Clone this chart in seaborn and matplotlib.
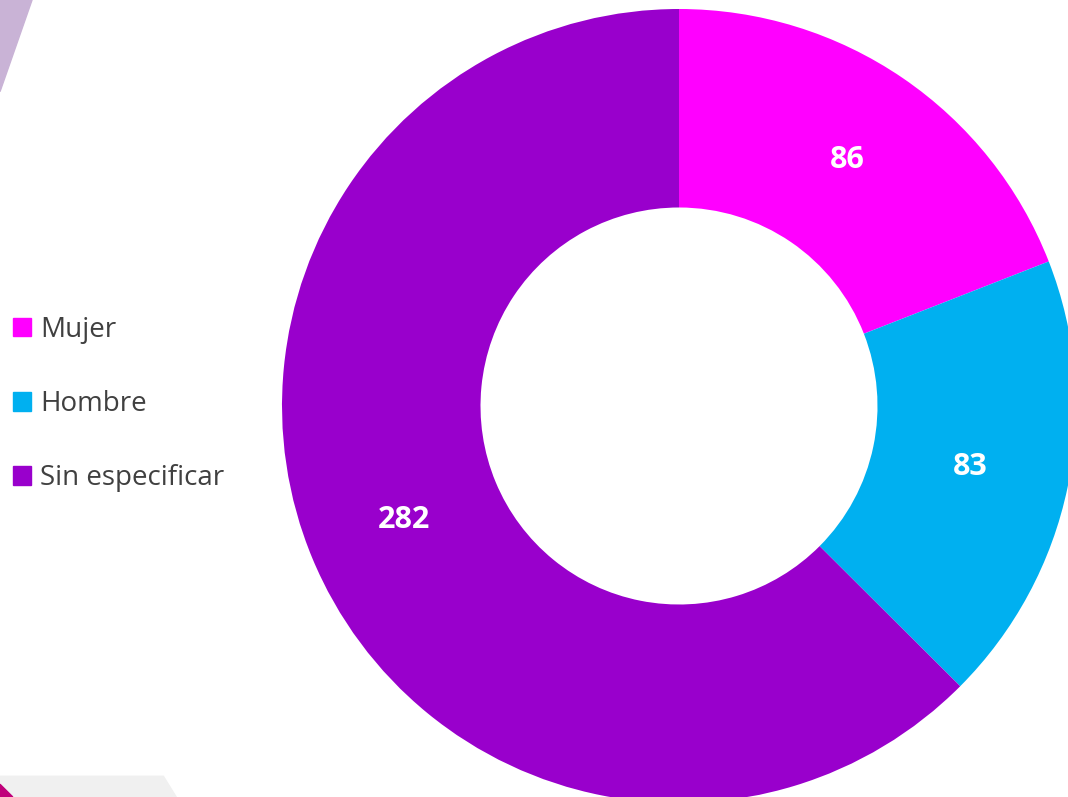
import matplotlib.pyplot as plt
import matplotlib.patches as mpatches
import seaborn as sns

# Data
categories = ['Mujer', 'Hombre', 'Sin especificar']
values = [86, 83, 282]
colors = ['#ff00ff', '#00b0f0', '#9900cc']

sns.set_theme(style='white')
plt.rcParams['font.family'] = ['Open Sans', 'DejaVu Sans']

fig = plt.figure(figsize=(10.68, 7.97), dpi=100)

# background decoration (slide corners)
fig.patches.append(mpatches.Polygon([[0, 1], [0.03, 1], [0, 0.885]], closed=True,
                                    transform=fig.transFigure, color='#c9b3d6', zorder=0))
fig.patches.append(mpatches.Polygon([[0, 0], [0, 0.026], [0.153, 0.026], [0.165, 0]], closed=True,
                                    transform=fig.transFigure, color='#f0f0f0', zorder=0))
fig.patches.append(mpatches.Polygon([[0, 0], [0, 0.016], [0.012, 0]], closed=True,
                                    transform=fig.transFigure, color='#c0007a', zorder=0))

ax = fig.add_axes([0, 0, 1, 1])
ax.set_facecolor('none')

# Draw donut
wedges, texts = ax.pie(values, colors=colors, startangle=90, counterclock=False,
                       radius=1, labels=[str(v) for v in values], labeldistance=0.75,
                       wedgeprops=dict(width=0.5, linewidth=0),
                       textprops=dict(color='white', fontsize=22, fontweight='bold',
                                      ha='center', va='center'))

# Position the donut as in the reference
r_px = 397
cx, cy = 679, 406
ax.set_xlim(-cx / r_px, (1068 - cx) / r_px)
ax.set_ylim(-(797 - cy) / r_px, cy / r_px)
ax.set_aspect('auto')
ax.axis('off')

handles = [mpatches.Patch(color=c, label=l) for c, l in zip(colors, categories)]
leg = fig.legend(handles=handles, loc='center left', bbox_to_anchor=(0.0, 0.493),
                 frameon=False, fontsize=20, handlelength=0.65, handleheight=0.65,
                 handletextpad=0.32, labelspacing=1.67, borderaxespad=0.08)
for t in leg.get_texts():
    t.set_color('#404040')

fig.savefig('out.png', dpi=100)
